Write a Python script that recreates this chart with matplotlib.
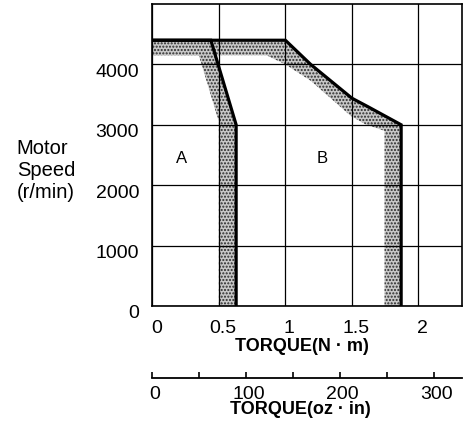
import matplotlib
matplotlib.use("Agg")
import matplotlib.pyplot as plt
import matplotlib.transforms as mtransforms

plt.rcParams['font.family'] = ['Liberation Sans', 'DejaVu Sans']
plt.rcParams['hatch.linewidth'] = 1.0

# speed/torque limits (torque in N·m, speed in r/min)
a_line_torque = [0, 0.44, 0.63, 0.63]
a_line_speed = [4400, 4400, 3000, 0]
a_band_torque = [0, 0.35, 0.50, 0.50]
a_band_speed = [4150, 4150, 3050, 0]

b_line_torque = [0, 1.0, 1.19, 1.5, 1.62, 1.87, 1.87]
b_line_speed = [4400, 4400, 4000, 3440, 3300, 3000, 0]
b_band_torque = [0, 0.86, 1.0, 1.19, 1.49, 1.6, 1.745, 1.745]
b_band_speed = [4150, 4150, 4000, 3730, 3150, 3010, 2900, 0]

nm_ticks = [0, 0.5, 1, 1.5, 2]
nm_labels = ['0', '0.5', '1', '1.5', '2']
speed_ticks = [0, 1000, 2000, 3000, 4000]
oz_ticks = [0, 100, 200, 300]
oz_minor = [50, 150, 250]

NM_TO_OZIN = 141.61
XMAX = 2.325
YMAX = 5000

W, H = 475, 429
fig = plt.figure(figsize=(W / 100, H / 100), dpi=100)

left = 152.3 / W
width = (461.7 - 152.3) / W
ax = fig.add_axes([left, 1 - 306 / H, width, (306 - 4) / H])
ax.set_xlim(0, XMAX)
ax.set_ylim(0, YMAX)
ax.set_xticks(nm_ticks)
ax.set_xticklabels(nm_labels)
ax.set_yticks(speed_ticks)
ax.tick_params(length=0, labelsize=14)
ax.tick_params(axis='x', pad=10)
ax.tick_params(axis='y', pad=9.5)
ax.grid(True, color='black', lw=0.9)
ax.set_axisbelow(False)
for s in ax.spines.values():
    s.set_linewidth(1.2)

# labels sit a little off their ticks
dx = mtransforms.ScaledTranslation(4 / 100, 0, fig.dpi_scale_trans)
for lab in ax.get_xticklabels():
    lab.set_transform(lab.get_transform() + dx)
dy = mtransforms.ScaledTranslation(0, -6 / 100, fig.dpi_scale_trans)
for lab in ax.get_yticklabels():
    lab.set_transform(lab.get_transform() + dy)

band_style = dict(facecolor='#c8c8c8', edgecolor='#2a2a2a', hatch='.....',
                  linewidth=0, zorder=1)
ax.fill(a_line_torque + a_band_torque[::-1], a_line_speed + a_band_speed[::-1],
        **band_style)
ax.fill(b_line_torque + b_band_torque[::-1], b_line_speed + b_band_speed[::-1],
        **band_style)

ax.plot(a_line_torque, a_line_speed, color='black', lw=2.3, zorder=3,
        solid_joinstyle='miter')
ax.plot(b_line_torque, b_line_speed, color='black', lw=2.3, zorder=3,
        solid_joinstyle='miter')

ax.text(0.22, 2450, 'A', fontsize=12, ha='center', va='center')
ax.text(1.28, 2450, 'B', fontsize=12, ha='center', va='center')

fig.text(16.7 / W, 1 - 170 / H, 'Motor\nSpeed\n(r/min)', fontsize=14.5,
         ha='left', va='center', linespacing=1.2)
fig.text(301.5 / W, 1 - 346.5 / H, 'TORQUE(N · m)', fontsize=13,
         fontweight='bold', ha='center', va='center')

# second torque scale in oz·in
ax2 = fig.add_axes([left, 1 - 378 / H, width, 0.001])
ax2.set_xlim(0, XMAX * NM_TO_OZIN)
ax2.set_xticks(oz_ticks)
ax2.set_xticks(oz_minor, minor=True)
ax2.set_yticks([])
for side in ['left', 'right', 'top']:
    ax2.spines[side].set_visible(False)
ax2.spines['bottom'].set_linewidth(1.3)
ax2.tick_params(axis='x', which='both', direction='in', length=4, width=1.2,
                labelsize=14, pad=5.5)
ax2.patch.set_visible(False)
dx2 = mtransforms.ScaledTranslation(2.5 / 100, 0, fig.dpi_scale_trans)
for lab in ax2.get_xticklabels():
    lab.set_transform(lab.get_transform() + dx2)
fig.text(300 / W, 1 - 409.5 / H, 'TORQUE(oz · in)', fontsize=13,
         fontweight='bold', ha='center', va='center')

fig.savefig('out.png', dpi=100)
